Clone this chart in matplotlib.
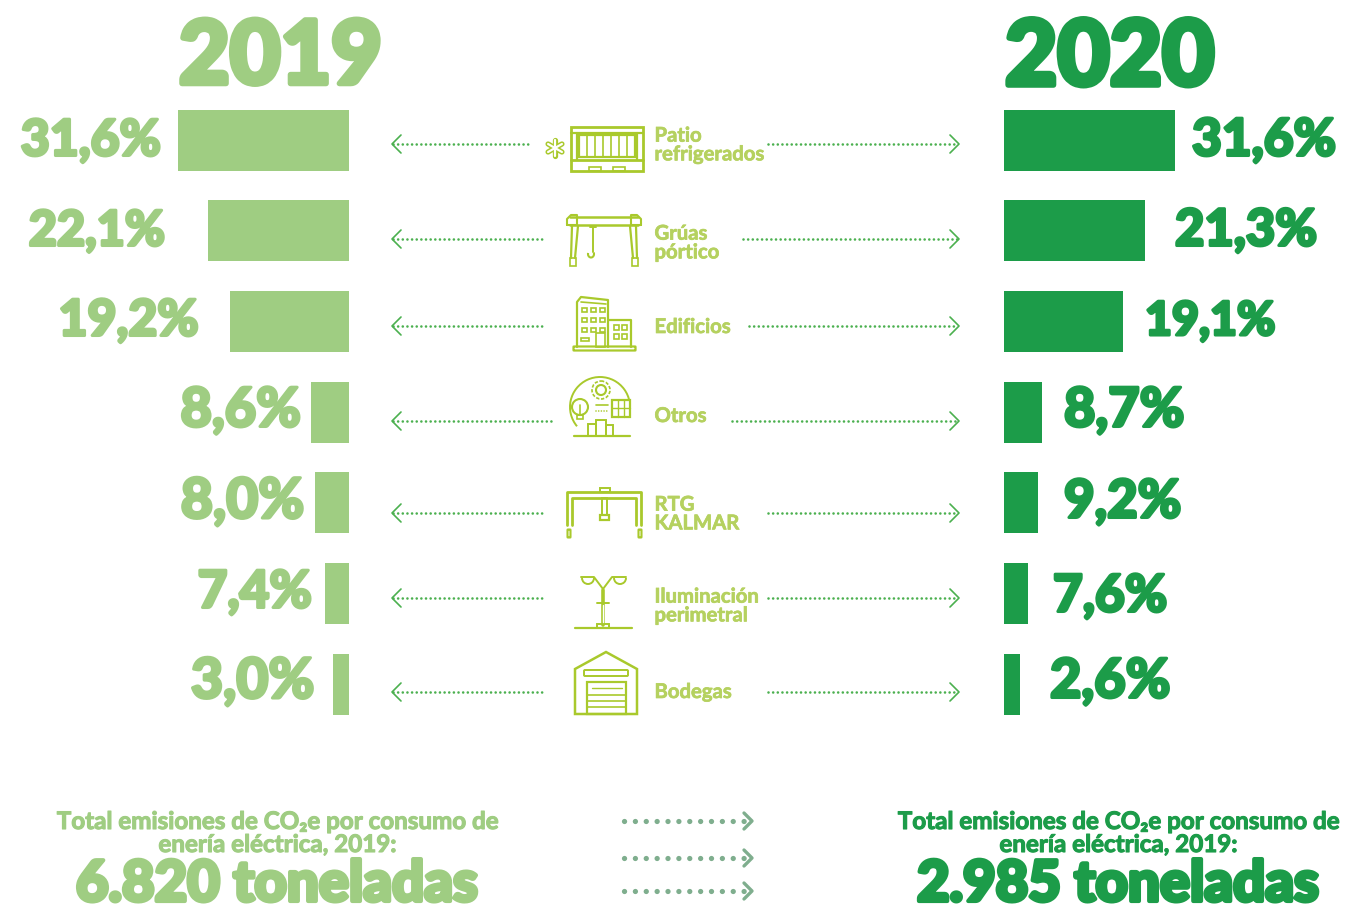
import numpy as np
import matplotlib
matplotlib.use('Agg')
import matplotlib.pyplot as plt
import matplotlib.patheffects as pe
from matplotlib.patches import Rectangle, Circle, Polygon, FancyBboxPatch, Arc

categories = ['Patio\nrefrigerados', 'Grúas\npórtico', 'Edificios', 'Otros', 'RTG\nKALMAR', 'Iluminación\nperimetral', 'Bodegas']
pct_2019 = [31.6, 22.1, 19.2, 8.6, 8.0, 7.4, 3.0]
pct_2020 = [31.6, 21.3, 19.1, 8.7, 9.2, 7.6, 2.6]
# the bars in the picture are not to scale with the labels, so lengths are read off separately
bars_2019 = [171, 141, 119, 38, 34, 24, 16]
bars_2020 = [171, 141, 119, 38, 34, 24, 16]
total_2019 = '6.820 toneladas'
total_2020 = '2.985 toneladas'
total_text = 'Total emisiones de CO₂e por consumo de\nenería eléctrica, 2019:'

LIGHT = '#9fcd82'
DARK = '#1c9c49'
LABEL = '#b5d15f'
ICON = '#a9c92c'
ARROW = '#4bb04f'
GREY = '#7fae8e'
HEAVY = ['Lato', 'DejaVu Sans']

fig = plt.figure(figsize=(13.45, 9.11), dpi=100)
ax = fig.add_axes([0, 0, 1, 1])
ax.set_xlim(0, 1345)
ax.set_ylim(911, 0)
ax.axis('off')


def heavy(x, y, s, size, color, ha='left', stroke=2.2):
    ax.text(x, y, s, fontsize=size, color=color, family=HEAVY, fontweight='black', ha=ha, va='center',
            path_effects=[pe.withStroke(linewidth=stroke, foreground=color)])


def line(xs, ys, lw=1.6, color=ICON, zorder=2):
    ax.plot(xs, ys, color=color, lw=lw, solid_capstyle='round', solid_joinstyle='round', zorder=zorder)


def box(x, y, w, h, lw=1.6):
    ax.add_patch(Rectangle((x, y), w, h, fill=False, ec=ICON, lw=lw))


def chevron(x, y, d, size=9, color=ARROW, lw=1.2):
    line([x + d * size, x, x + d * size], [y - size, y, y + size], lw=lw, color=color)


def dotted(x0, x1, y, color=ARROW, lw=1.9, gap=1.75):
    ax.plot([x0, x1], [y, y], color=color, lw=lw, linestyle=(0, (0.01, gap)), dash_capstyle='round')


# Titles
heavy(179, 58, '2019', 63, LIGHT, stroke=4)
heavy(1005, 59, '2020', 65, DARK, stroke=4)

# Bars
bar_y = [140.5, 230.5, 321.5, 412.5, 502.5, 593.5, 684.5]
ax.barh(bar_y, bars_2019, height=61, left=[349.3 - b for b in bars_2019], color=LIGHT)
ax.barh(bar_y, bars_2020, height=61, left=1004, color=DARK)

# Percent labels, sizes differ because the original face has a much narrower 1
left_ends = [161, 165, 199, 301, 304, 312, 314]
left_y = [141, 231, 321, 411, 502, 593, 682]
left_size = [36, 35, 36, 39, 40, 37, 40]
right_starts = [1192, 1175, 1145, 1064, 1064, 1053, 1050]
right_y = [141, 231, 321, 411, 502, 597, 682]
right_size = [37, 36.5, 33.5, 39, 38, 37, 39]
for i in range(len(categories)):
    heavy(left_ends[i], left_y[i], f'{pct_2019[i]:.1f}%'.replace('.', ','), left_size[i], LIGHT, ha='right')
    heavy(right_starts[i], right_y[i], f'{pct_2020[i]:.1f}%'.replace('.', ','), right_size[i], DARK)

# Dotted arrows
arrow_y = [144, 239, 326, 421, 513, 598, 692]
arrow_left = [528, 546, 546, 551, 546, 546, 546]
arrow_right = [768, 743, 749, 732, 768, 768, 768]
for i in range(len(categories)):
    dotted(393, arrow_left[i], arrow_y[i])
    dotted(arrow_right[i], 958, arrow_y[i])
    chevron(392, arrow_y[i], 1)
    chevron(959, arrow_y[i], -1)

# Category labels
label_y = [145, 243, 327, 416, 514, 606, 692]
for i, c in enumerate(categories):
    ax.text(654.5, label_y[i], c, fontsize=14.6, color=LABEL, family=HEAVY, fontweight='bold', ha='left',
            va='center', linespacing=0.92,
            path_effects=[pe.withStroke(linewidth=0.5, foreground=LABEL)])

# Icon: refrigerated container
box(571, 127, 72, 44, lw=2)
line([571, 643], [133, 133])
line([577, 577], [133, 160])
line([637, 637], [133, 160])
box(579, 135, 56, 22)
for x in [587, 595, 603, 611, 619, 627]:
    line([x, x], [135, 157], lw=1.2)
line([571, 643], [160, 160], lw=2)
box(589, 167, 12, 4, lw=1.2)
box(613, 167, 12, 4, lw=1.2)
# asterisk, outlined by a white core over a thick stroke
for a in [0, 60, 120]:
    dx, dy = 8 * np.sin(np.radians(a)), 8 * np.cos(np.radians(a))
    line([555 - dx, 555 + dx], [148 - dy, 148 + dy], lw=3.8)
for a in [0, 60, 120]:
    dx, dy = 8 * np.sin(np.radians(a)), 8 * np.cos(np.radians(a))
    line([555 - dx, 555 + dx], [148 - dy, 148 + dy], lw=1.6, color='white', zorder=3)

# Icon: gantry crane
line([570, 638], [217, 217], lw=1.8)
line([570, 638], [225, 225], lw=1.8)
line([567, 567, 571, 577, 577, 567], [225, 219, 215, 215, 225, 225], lw=1.5)
line([641, 641, 637, 631, 631, 641], [225, 219, 215, 215, 225, 225], lw=1.5)
line([572, 571], [226, 258], lw=1.6)
line([578, 575], [226, 258], lw=1.6)
line([630, 633], [226, 258], lw=1.6)
line([636, 637], [226, 258], lw=1.6)
box(570, 258, 6, 8, lw=1.2)
box(632, 258, 6, 8, lw=1.2)
line([590, 596], [227, 227], lw=1.4)
line([593, 593], [227, 252], lw=1.4)
ax.add_patch(Arc((591, 254), 6, 7, theta1=-30, theta2=200, ec=ICON, lw=1.5))

# Icon: buildings
line([577, 577, 581, 608, 608], [347, 302, 297, 300, 347])
line([581, 606], [302, 304], lw=1.2)
line([609, 631, 631], [320, 320, 347])
for r in [310, 320, 330]:
    for x in [582, 591, 600]:
        box(x, r - 2, 5, 4, lw=1.2)
for x, y in [(614, 325), (622, 325), (614, 334), (622, 334)]:
    box(x, y, 5, 5, lw=1.2)
box(581, 338, 8, 3, lw=1.2)
box(596, 333, 9, 14, lw=1.2)
ax.add_patch(FancyBboxPatch((574, 347), 61, 3, boxstyle='round,pad=0.5', fill=False, ec=ICON, lw=1.6))

# Icon: others
ax.add_patch(Arc((600, 407), 60, 60, theta1=140, theta2=350, ec=ICON, lw=1.4))
ax.add_patch(Circle((601, 390), 5, fill=False, ec=ICON, lw=1.5, zorder=3))
ax.add_patch(Circle((601, 390), 9, fc='white', ec=ICON, lw=1.2, ls=(0, (2, 1)), zorder=2))
ax.add_patch(Circle((580, 407), 8, fc='white', ec=ICON, lw=1.5, zorder=3))
box(577, 415, 6, 4, lw=1.2)
line([580, 580], [405, 415], lw=1.2, zorder=4)
ax.add_patch(Rectangle((612, 400), 18, 17, fc='white', ec=ICON, lw=1.6, zorder=3))
line([618, 618], [400, 417], lw=1, zorder=4)
line([624, 624], [400, 417], lw=1, zorder=4)
line([612, 630], [408, 408], lw=1, zorder=4)
line([596, 608], [405, 405], lw=1.2)
dotted(596, 608, 411, color=ICON, lw=1.2, gap=1.6)
box(588, 424, 8, 12, lw=1.4)
box(596, 420, 10, 16, lw=1.4)
box(606, 425, 7, 11, lw=1.4)
line([574, 630], [436, 436], lw=1.6)

# Icon: RTG crane
line([567, 567, 641, 641], [525, 492, 492, 525], lw=2)
line([572, 572, 636, 636], [525, 498, 498, 525], lw=2)
box(600, 488, 10, 4, lw=1.4)
box(602, 498, 5, 17, lw=1.4)
box(600, 515, 9, 5, lw=1.6)
for x in [569, 640]:
    ax.add_patch(FancyBboxPatch((x - 1, 530), 2, 7, boxstyle='round,pad=0.5', fill=False, ec=ICON, lw=1.5))

# Icon: street lamp
line([575, 632], [628, 628], lw=1.6)
line([603, 603], [590, 625], lw=2.6)
line([603, 603], [605, 622], lw=1, color='white', zorder=3)
line([581, 594, 603, 612, 626], [577, 577, 589, 577, 577], lw=1.4)
ax.add_patch(Arc((588, 578), 12, 12, theta1=0, theta2=180, ec=ICON, lw=1.4))
ax.add_patch(Arc((620, 578), 12, 12, theta1=0, theta2=180, ec=ICON, lw=1.4))
line([597, 609], [603, 603], lw=1.4)
box(597, 624, 12, 4, lw=1.4)

# Icon: warehouse
ax.add_patch(Polygon([(575, 714), (575, 669), (606, 652), (637, 669), (637, 714)], fill=False, ec=ICON, lw=1.8))
ax.add_patch(FancyBboxPatch((585, 671), 42, 4, boxstyle='round,pad=1', fill=False, ec=ICON, lw=1.4))
box(587, 682, 39, 32, lw=1.6)
for y in [695, 701, 707]:
    line([587, 626], [y, y], lw=1.2)
line([592, 622], [688, 688], lw=1)

# Bottom totals
for cx, color, total in [(277, LIGHT, total_2019), (1118, DARK, total_2020)]:
    ax.text(cx, 833, total_text, fontsize=17.4, color=color, family=HEAVY, fontweight='bold', ha='center',
            va='center', linespacing=1.0, path_effects=[pe.withStroke(linewidth=0.8, foreground=color)])
    heavy(cx, 885, total, 40.5, color, ha='center', stroke=3)

# Bottom arrows
for y in [821, 858, 891]:
    dotted(624, 745, y, color=GREY, lw=3.8, gap=2.05)
    chevron(752, y, -1, size=8, color=GREY, lw=2.4)

fig.savefig('out.png', dpi=100)
